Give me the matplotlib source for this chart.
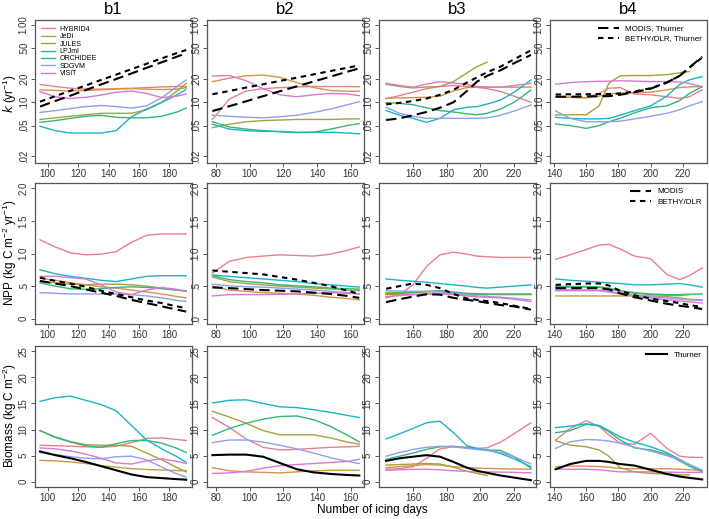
"""
Turnover rate k, NPP and biomass against number of icing days (panels b1-b4).
"""

import numpy as np
import matplotlib
matplotlib.use('Agg')
import matplotlib.pyplot as plt

nan = np.nan

plt.rcParams['font.family'] = ['Liberation Sans', 'DejaVu Sans']
plt.rcParams['mathtext.default'] = 'regular'

MODELS = ['HYBRID4', 'JeDi', 'JULES', 'LPJml', 'ORCHIDEE', 'SDGVM', 'VISIT']
COLORS = ['#E8808A', '#D2944A', '#A3A33A', '#35B57A', '#1AB5C5', '#8FA0EE', '#DA77D6']
PANEL_TITLES = ['b1', 'b2', 'b3', 'b4']

# x grids (number of icing days) per column
X_B1 = [95, 105, 115, 125, 135, 145, 155, 165, 175, 185, 191]
X_B2 = [78, 88, 98, 108, 118, 128, 138, 148, 158, 165]
X_B3 = [144, 152, 160, 168, 176, 184, 192, 198, 204, 212, 220, 230]
X_B4 = [141, 150, 160, 168, 174, 181, 190, 200, 210, 218, 224, 232]

# ============================================================================
# ROW 1: turnover rate k (yr-1)
# ============================================================================
K_B1 = {
    'HYBRID4': [0.17, 0.16, 0.152, 0.148, 0.148, 0.15, 0.152, 0.155, 0.158, 0.16, 0.16],
    'JeDi': [0.145, 0.142, 0.14, 0.142, 0.145, 0.148, 0.15, 0.148, 0.146, 0.148, 0.155],
    'JULES': [0.060, 0.063, 0.066, 0.069, 0.072, 0.072, 0.072, 0.080, 0.100, 0.140, 0.175],
    'LPJml': [0.055, 0.058, 0.062, 0.066, 0.068, 0.064, 0.063, 0.063, 0.066, 0.075, 0.084],
    'ORCHIDEE': [0.049, 0.043, 0.040, 0.040, 0.040, 0.043, 0.065, 0.082, 0.10, 0.125, 0.147],
    'SDGVM': [0.074, 0.078, 0.083, 0.088, 0.091, 0.088, 0.084, 0.09, 0.115, 0.16, 0.194],
    'VISIT': [0.137, 0.118, 0.112, 0.116, 0.124, 0.135, 0.14, 0.13, 0.115, 0.12, 0.128],
}
K_B1_MODIS = [0.088, 0.104, 0.122, 0.144, 0.17, 0.2, 0.236, 0.279, 0.33, 0.39, 0.43]
K_B1_BETHY = [0.102, 0.12, 0.141, 0.165, 0.194, 0.228, 0.268, 0.315, 0.37, 0.434, 0.475]

K_B2 = {
    'HYBRID4': [0.06, 0.11, 0.14, 0.15, 0.155, 0.158, 0.16, 0.16, 0.16, 0.159],
    'JeDi': [0.185, 0.205, 0.22, 0.225, 0.21, 0.18, 0.155, 0.142, 0.139, 0.139],
    'JULES': [0.047, 0.052, 0.056, 0.058, 0.059, 0.06, 0.06, 0.06, 0.061, 0.061],
    'LPJml': [0.056, 0.048, 0.045, 0.043, 0.0415, 0.0405, 0.041, 0.045, 0.05, 0.053],
    'ORCHIDEE': [0.052, 0.045, 0.043, 0.042, 0.042, 0.041, 0.041, 0.041, 0.04, 0.039],
    'SDGVM': [0.068, 0.066, 0.064, 0.063, 0.065, 0.068, 0.074, 0.082, 0.093, 0.102],
    'VISIT': [0.219, 0.222, 0.19, 0.15, 0.125, 0.118, 0.125, 0.13, 0.128, 0.122],
}
K_B2_MODIS = [0.077, 0.089, 0.103, 0.12, 0.139, 0.161, 0.186, 0.215, 0.249, 0.275]
K_B2_BETHY = [0.127, 0.14, 0.155, 0.171, 0.189, 0.208, 0.23, 0.254, 0.28, 0.30]

K_B3 = {
    'HYBRID4': [0.111, 0.122, 0.135, 0.15, 0.16, 0.165, 0.16, 0.156, 0.15, 0.138, 0.12, 0.10],
    'JeDi': [0.113, 0.114, 0.115, 0.116, 0.12, 0.14, 0.155, 0.157, 0.157, 0.157, 0.157, 0.157],
    'JULES': [0.171, 0.16, 0.153, 0.158, 0.16, 0.185, 0.24, 0.29, 0.33, nan, nan, nan],
    'LPJml': [0.099, 0.097, 0.093, 0.085, 0.078, 0.075, 0.071, 0.069, 0.072, 0.082, 0.10, 0.144],
    'ORCHIDEE': [0.078, 0.068, 0.062, 0.055, 0.062, 0.08, 0.086, 0.088, 0.095, 0.107, 0.135, 0.194],
    'SDGVM': [0.086, 0.072, 0.066, 0.062, 0.062, 0.062, 0.062, 0.062, 0.063, 0.068, 0.077, 0.092],
    'VISIT': [0.176, 0.165, 0.157, 0.172, 0.185, 0.178, 0.17, 0.16, 0.157, 0.157, 0.165, 0.176],
}
K_B3_MODIS = [0.059, 0.062, 0.068, 0.075, 0.085, 0.10, 0.14, 0.185, 0.22, 0.26, 0.32, 0.41]
K_B3_BETHY = [0.094, 0.098, 0.104, 0.112, 0.125, 0.145, 0.18, 0.21, 0.245, 0.29, 0.36, 0.47]

K_B4 = {
    'HYBRID4': [0.118, 0.116, 0.115, 0.13, 0.152, 0.155, 0.128, 0.125, 0.118, 0.112, 0.118, 0.145],
    'JeDi': [0.118, 0.116, 0.114, 0.12, 0.128, 0.132, 0.133, 0.135, 0.145, 0.155, 0.158, 0.16],
    'JULES': [0.0685, 0.069, 0.069, 0.09, 0.176, 0.22, 0.222, 0.222, 0.228, 0.24, 0.25, nan],
    'LPJml': [0.0524, 0.05, 0.046, 0.05, 0.056, 0.062, 0.073, 0.085, 0.09, 0.105, 0.13, 0.159],
    'ORCHIDEE': [0.064, 0.062, 0.061, 0.061, 0.062, 0.068, 0.078, 0.09, 0.12, 0.17, 0.195, 0.215],
    'SDGVM': [0.077, 0.062, 0.056, 0.056, 0.056, 0.057, 0.061, 0.066, 0.072, 0.08, 0.09, 0.102],
    'VISIT': [0.171, 0.18, 0.185, 0.187, 0.188, 0.19, 0.188, 0.185, 0.185, 0.183, 0.175, 0.159],
}
K_B4_MODIS = [0.118, 0.118, 0.119, 0.12, 0.12, 0.125, 0.135, 0.15, 0.18, 0.22, 0.28, 0.39]
K_B4_BETHY = [0.126, 0.127, 0.127, 0.128, 0.128, 0.13, 0.138, 0.152, 0.18, 0.22, 0.28, 0.38]

# ============================================================================
# ROW 2: NPP (kg C m-2 yr-1)
# ============================================================================
NPP_B1 = {
    'HYBRID4': [1.21, 1.10, 1.01, 0.98, 0.99, 1.03, 1.17, 1.28, 1.30, 1.30, 1.30],
    'JeDi': [0.62, 0.59, 0.55, 0.52, 0.49, 0.47, 0.44, 0.41, 0.38, 0.34, 0.32],
    'JULES': [0.57, 0.55, 0.53, 0.52, 0.53, 0.53, 0.52, 0.50, 0.47, 0.44, 0.43],
    'LPJml': [0.55, 0.50, 0.46, 0.45, 0.46, 0.48, 0.49, 0.48, 0.46, 0.44, 0.42],
    'ORCHIDEE': [0.75, 0.69, 0.65, 0.62, 0.59, 0.57, 0.61, 0.65, 0.66, 0.66, 0.66],
    'SDGVM': [0.40, 0.39, 0.38, 0.38, 0.38, 0.38, 0.37, 0.35, 0.32, 0.28, 0.265],
    'VISIT': [0.65, 0.65, 0.63, 0.61, 0.52, 0.41, 0.37, 0.44, 0.48, 0.45, 0.42],
}
NPP_B1_MODIS = [0.58, 0.54, 0.50, 0.45, 0.40, 0.35, 0.29, 0.24, 0.19, 0.14, 0.11]
NPP_B1_BETHY = [0.63, 0.58, 0.54, 0.49, 0.43, 0.38, 0.33, 0.28, 0.24, 0.19, 0.16]

NPP_B2 = {
    'HYBRID4': [0.70, 0.88, 0.94, 0.96, 0.98, 0.97, 0.96, 0.99, 1.05, 1.10],
    'JeDi': [0.50, 0.44, 0.42, 0.40, 0.39, 0.38, 0.36, 0.33, 0.31, 0.29],
    'JULES': [0.64, 0.57, 0.54, 0.52, 0.50, 0.485, 0.47, 0.455, 0.44, 0.43],
    'LPJml': [0.66, 0.60, 0.57, 0.55, 0.52, 0.505, 0.49, 0.47, 0.46, 0.455],
    'ORCHIDEE': [0.67, 0.65, 0.63, 0.61, 0.59, 0.57, 0.54, 0.52, 0.50, 0.485],
    'SDGVM': [0.53, 0.505, 0.49, 0.485, 0.47, 0.455, 0.44, 0.42, 0.40, 0.38],
    'VISIT': [0.35, 0.37, 0.37, 0.37, 0.375, 0.38, 0.39, 0.40, 0.39, 0.38],
}
NPP_B2_MODIS = [0.48, 0.47, 0.455, 0.44, 0.43, 0.42, 0.40, 0.38, 0.35, 0.32]
NPP_B2_BETHY = [0.74, 0.72, 0.70, 0.68, 0.64, 0.60, 0.55, 0.50, 0.43, 0.38]

NPP_B3 = {
    'HYBRID4': [0.32, 0.37, 0.52, 0.80, 0.98, 1.02, 0.99, 0.96, 0.95, 0.94, 0.94, 0.94],
    'JeDi': [0.37, 0.37, 0.37, 0.375, 0.38, 0.375, 0.37, 0.37, 0.37, 0.37, 0.37, 0.37],
    'JULES': [0.40, 0.40, 0.40, 0.41, 0.42, 0.40, 0.38, 0.375, 0.37, nan, nan, nan],
    'LPJml': [0.38, 0.39, 0.40, 0.42, 0.43, 0.41, 0.39, 0.385, 0.38, 0.38, 0.38, 0.38],
    'ORCHIDEE': [0.61, 0.59, 0.575, 0.56, 0.54, 0.52, 0.50, 0.48, 0.47, 0.485, 0.50, 0.52],
    'SDGVM': [0.43, 0.425, 0.42, 0.42, 0.415, 0.39, 0.37, 0.35, 0.34, 0.33, 0.315, 0.29],
    'VISIT': [0.34, 0.355, 0.37, 0.385, 0.39, 0.37, 0.35, 0.335, 0.33, 0.32, 0.30, 0.265],
}
NPP_B3_MODIS = [0.255, 0.30, 0.34, 0.375, 0.37, 0.32, 0.29, 0.27, 0.245, 0.21, 0.19, 0.14]
NPP_B3_BETHY = [0.46, 0.50, 0.54, 0.52, 0.47, 0.38, 0.31, 0.29, 0.27, 0.24, 0.20, 0.15]

NPP_B4 = {
    'HYBRID4': [0.91, 0.98, 1.06, 1.13, 1.14, 1.07, 0.96, 0.92, 0.68, 0.60, 0.66, 0.78],
    'JeDi': [0.35, 0.35, 0.35, 0.35, 0.35, 0.35, 0.35, 0.35, 0.34, 0.32, 0.30, 0.29],
    'JULES': [0.485, 0.485, 0.485, 0.48, 0.46, 0.42, 0.39, 0.37, 0.36, 0.355, 0.37, nan],
    'LPJml': [0.495, 0.495, 0.495, 0.49, 0.47, 0.43, 0.40, 0.38, 0.37, 0.37, 0.375, 0.38],
    'ORCHIDEE': [0.61, 0.59, 0.575, 0.56, 0.55, 0.54, 0.52, 0.52, 0.53, 0.54, 0.52, 0.485],
    'SDGVM': [0.45, 0.445, 0.44, 0.44, 0.42, 0.39, 0.36, 0.34, 0.32, 0.30, 0.29, 0.28],
    'VISIT': [0.43, 0.43, 0.43, 0.43, 0.41, 0.38, 0.35, 0.32, 0.29, 0.27, 0.26, 0.24],
}
NPP_B4_MODIS = [0.47, 0.47, 0.47, 0.47, 0.45, 0.39, 0.33, 0.28, 0.23, 0.20, 0.18, 0.15]
NPP_B4_BETHY = [0.52, 0.53, 0.54, 0.54, 0.51, 0.43, 0.36, 0.31, 0.27, 0.24, 0.21, 0.18]

# ============================================================================
# ROW 3: Biomass (kg C m-2)
# ============================================================================
BIO_B1 = {
    'HYBRID4': [7.0, 6.9, 6.8, 6.7, 6.6, 6.8, 7.5, 8.3, 8.4, 8.1, 7.9],
    'JeDi': [4.1, 4.0, 3.8, 3.5, 3.1, 2.8, 2.5, 2.35, 2.25, 2.15, 2.1],
    'JULES': [9.8, 8.6, 7.7, 7.1, 7.0, 7.0, 6.8, 5.5, 4.2, 2.7, 1.9],
    'LPJml': [9.8, 8.5, 7.6, 6.9, 6.6, 7.3, 7.9, 7.9, 7.4, 6.4, 5.6],
    'ORCHIDEE': [15.4, 16.1, 16.4, 15.6, 14.8, 13.6, 10.8, 8.0, 6.3, 4.8, 3.7],
    'SDGVM': [5.6, 5.2, 4.8, 4.5, 4.4, 4.8, 4.9, 4.2, 2.8, 1.5, 0.9],
    'VISIT': [6.5, 6.3, 5.9, 5.3, 4.5, 3.6, 3.4, 4.0, 4.4, 3.9, 3.5],
}
BIO_B1_THURNER = [5.8, 5.1, 4.5, 3.8, 3.0, 2.2, 1.4, 0.9, 0.7, 0.5, 0.4]

BIO_B2 = {
    'HYBRID4': [12.3, 10.4, 8.2, 6.6, 6.1, 6.2, 6.4, 6.6, 6.7, 6.8],
    'JeDi': [2.7, 2.1, 1.9, 1.8, 1.7, 1.9, 2.1, 2.2, 2.2, 2.2],
    'JULES': [13.5, 12.4, 11.2, 9.8, 9.0, 9.0, 9.0, 8.4, 7.6, 7.2],
    'LPJml': [8.9, 10.2, 11.2, 12.0, 12.5, 12.6, 11.9, 10.6, 8.9, 7.65],
    'ORCHIDEE': [15.1, 15.6, 15.7, 15.0, 14.35, 14.2, 13.8, 13.3, 12.7, 12.3],
    'SDGVM': [7.5, 8.0, 8.0, 7.6, 7.0, 6.3, 5.5, 4.6, 3.9, 3.5],
    'VISIT': [1.6, 1.7, 2.0, 2.6, 3.1, 3.3, 3.5, 3.7, 3.9, 4.3],
}
BIO_B2_THURNER = [5.1, 5.2, 5.2, 4.8, 3.6, 2.4, 1.8, 1.5, 1.3, 1.2]

BIO_B3 = {
    'HYBRID4': [2.4, 2.5, 2.9, 4.5, 6.3, 6.7, 6.6, 6.4, 6.5, 7.6, 9.2, 11.3],
    'JeDi': [2.7, 2.9, 3.1, 3.3, 3.2, 2.9, 2.7, 2.6, 2.55, 2.5, 2.45, 2.4],
    'JULES': [3.2, 3.3, 3.4, 3.5, 3.4, 2.8, 2.0, 1.6, 1.2, nan, nan, nan],
    'LPJml': [4.3, 4.9, 5.5, 6.2, 6.7, 6.8, 6.5, 6.2, 6.1, 6.0, 4.8, 2.6],
    'ORCHIDEE': [8.2, 9.2, 10.2, 11.3, 11.6, 9.4, 6.9, 6.4, 6.1, 5.4, 4.4, 2.9],
    'SDGVM': [4.9, 5.6, 6.2, 6.6, 6.8, 6.7, 6.4, 6.2, 6.0, 5.6, 4.8, 3.4],
    'VISIT': [2.2, 2.3, 2.4, 2.4, 2.3, 2.1, 2.0, 1.9, 1.9, 1.85, 1.8, 1.7],
}
BIO_B3_THURNER = [4.0, 4.5, 4.8, 5.1, 4.8, 3.8, 2.7, 2.1, 1.7, 1.2, 0.8, 0.3]

BIO_B4 = {
    'HYBRID4': [8.0, 10.2, 11.7, 10.6, 9.0, 7.4, 7.2, 9.3, 6.4, 4.9, 4.7, 4.65],
    'JeDi': [2.9, 3.0, 3.0, 2.9, 2.8, 2.55, 2.5, 2.5, 2.5, 2.4, 2.3, 2.2],
    'JULES': [7.85, 7.0, 6.7, 6.1, 4.9, 2.7, 1.9, 1.6, 1.5, 1.35, 1.3, nan],
    'LPJml': [9.4, 9.8, 11.0, 10.7, 9.6, 8.0, 6.5, 6.1, 5.3, 4.0, 3.0, 1.9],
    'ORCHIDEE': [10.4, 10.65, 11.1, 10.8, 9.8, 8.6, 7.6, 6.7, 5.6, 4.3, 3.3, 2.2],
    'SDGVM': [6.4, 7.65, 8.1, 8.0, 7.8, 7.4, 6.6, 5.9, 5.0, 4.2, 3.3, 2.2],
    'VISIT': [2.4, 2.4, 2.4, 2.3, 2.1, 1.9, 1.9, 1.9, 1.85, 1.8, 1.8, 1.8],
}
BIO_B4_THURNER = [2.4, 3.4, 4.0, 4.0, 3.8, 3.4, 3.1, 2.3, 1.5, 1.0, 0.75, 0.45]

# ============================================================================
# LAYOUT
# ============================================================================
W, H = 709, 519
COL_LEFT = [35, 207, 379, 550]
COL_W = 157
ROW_TOP = [20, 183, 346]
ROW_H = [143, 141, 141]
XLIMS = [(91.7, 194.8), (74.8, 167.8), (139.8, 233.0), (137.5, 235.0)]
XTICKS = [[100, 120, 140, 160, 180], [80, 100, 120, 140, 160],
          [160, 180, 200, 220], [140, 160, 180, 200, 220]]
XGRIDS = [X_B1, X_B2, X_B3, X_B4]

GRAY = '#555555'
MODIS_DASH = (5, 2.5)
BETHY_DASH = (2.6, 2.2)

fig = plt.figure(figsize=(W / 100, H / 100), dpi=100)


def make_axes(row, col):
    rect = [COL_LEFT[col] / W, 1 - (ROW_TOP[row] + ROW_H[row]) / H, COL_W / W, ROW_H[row] / H]
    ax = fig.add_axes(rect)
    for sp in ax.spines.values():
        sp.set_color(GRAY)
        sp.set_linewidth(0.9)
    ax.tick_params(length=3, width=0.7, color=GRAY, labelsize=7, labelcolor='#333333', pad=1.5)
    ax.set_xlim(*XLIMS[col])
    ax.set_xticks(XTICKS[col])
    return ax


def draw_models(ax, x, data):
    for name, color in zip(MODELS, COLORS):
        ax.plot(x, data[name], color=color, linewidth=1.0, label=name)


k_data = [K_B1, K_B2, K_B3, K_B4]
k_modis = [K_B1_MODIS, K_B2_MODIS, K_B3_MODIS, K_B4_MODIS]
k_bethy = [K_B1_BETHY, K_B2_BETHY, K_B3_BETHY, K_B4_BETHY]
npp_data = [NPP_B1, NPP_B2, NPP_B3, NPP_B4]
npp_modis = [NPP_B1_MODIS, NPP_B2_MODIS, NPP_B3_MODIS, NPP_B4_MODIS]
npp_bethy = [NPP_B1_BETHY, NPP_B2_BETHY, NPP_B3_BETHY, NPP_B4_BETHY]
bio_data = [BIO_B1, BIO_B2, BIO_B3, BIO_B4]
bio_thurner = [BIO_B1_THURNER, BIO_B2_THURNER, BIO_B3_THURNER, BIO_B4_THURNER]

for col in range(4):
    x = XGRIDS[col]

    # --- row 1: k, log scale
    ax = make_axes(0, col)
    draw_models(ax, x, k_data[col])
    m, = ax.plot(x, k_modis[col], color='black', linewidth=1.5, dashes=MODIS_DASH,
                 label='MODIS, Thurner')
    b, = ax.plot(x, k_bethy[col], color='black', linewidth=1.5, dashes=BETHY_DASH,
                 label='BETHY/DLR, Thurner')
    ax.set_yscale('log')
    ax.set_ylim(0.0164, 1.16)
    ax.set_yticks([0.02, 0.05, 0.1, 0.2, 0.5, 1.0])
    ax.set_yticklabels(['.02', '.05', '.10', '.20', '.50', '1.00'], rotation=90, va='center')
    ax.minorticks_off()
    if col == 0:
        ax.legend(handles=ax.lines[:7], loc='upper left', frameon=False, fontsize=5,
                  handlelength=2.0, handletextpad=0.7, labelspacing=0.05, borderaxespad=0.45)
    if col == 3:
        ax.legend(handles=[m, b], loc='upper right', frameon=False, fontsize=5.8,
                  handlelength=2.6, handletextpad=0.8, labelspacing=0.3, borderaxespad=0.2)
    fig.text((COL_LEFT[col] + COL_W / 2) / W, 1 - 9 / H, PANEL_TITLES[col],
             fontsize=12, ha='center', va='center')

    # --- row 2: NPP
    ax = make_axes(1, col)
    draw_models(ax, x, npp_data[col])
    m, = ax.plot(x, npp_modis[col], color='black', linewidth=1.5, dashes=MODIS_DASH,
                 label='MODIS')
    b, = ax.plot(x, npp_bethy[col], color='black', linewidth=1.5, dashes=BETHY_DASH,
                 label='BETHY/DLR')
    ax.set_ylim(-0.08, 2.08)
    ax.set_yticks([0, 0.5, 1.0, 1.5, 2.0])
    zero = '0' if col == 0 else '.0'
    ax.set_yticklabels([zero, '.5', '1.0', '1.5', '2.0'], rotation=90, va='center')
    if col == 3:
        ax.legend(handles=[m, b], loc='upper right', frameon=False, fontsize=5.8,
                  handlelength=2.6, handletextpad=0.8, labelspacing=0.3, borderaxespad=0.2)

    # --- row 3: biomass
    ax = make_axes(2, col)
    draw_models(ax, x, bio_data[col])
    t, = ax.plot(x, bio_thurner[col], color='black', linewidth=1.5, label='Thurner')
    ax.set_ylim(-1, 26)
    ax.set_yticks([0, 5, 10, 15, 20, 25])
    ax.set_yticklabels(['0', '5', '10', '15', '20', '25'], rotation=90, va='center')
    if col == 3:
        ax.legend(handles=[t], loc='upper right', frameon=False, fontsize=5.8,
                  handlelength=2.6, handletextpad=0.8, borderaxespad=0.3)

# row labels and shared x label
fig.text(10 / W, 1 - 94 / H, r'$\mathit{k}$ (yr$^{-1}$)', rotation=90,
         fontsize=8.5, ha='center', va='center')
fig.text(10 / W, 1 - 253 / H, 'NPP (kg C m$^{-2}$ yr$^{-1}$)', rotation=90,
         fontsize=8.5, ha='center', va='center')
fig.text(10 / W, 1 - 416 / H, 'Biomass (kg C m$^{-2}$)', rotation=90,
         fontsize=8.5, ha='center', va='center')
fig.text(372 / W, 1 - 510 / H, 'Number of icing days', fontsize=8.5,
         ha='center', va='center')

fig.savefig('out.png', dpi=100)
